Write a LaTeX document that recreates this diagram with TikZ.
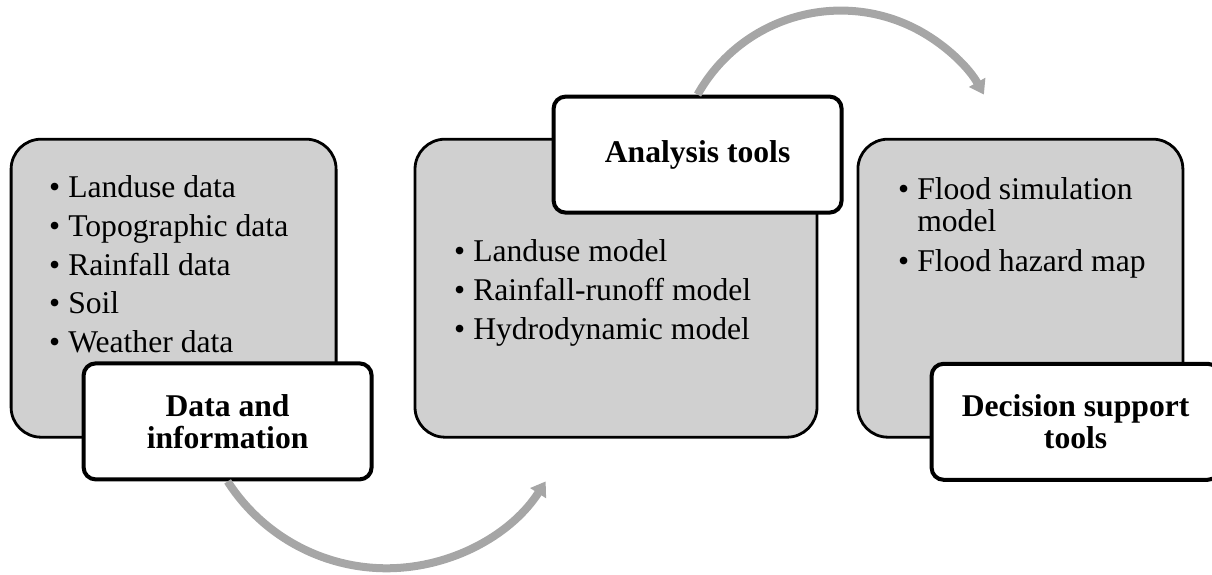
\documentclass[tikz,border=0pt]{standalone}
\usepackage{fontspec}
\setmainfont{Liberation Serif}
\usepackage{tikz}
\usetikzlibrary{arrows.meta}

\definecolor{panelgray}{RGB}{208,208,208}
\definecolor{arcgray}{RGB}{166,166,166}

\newcommand{\itembullet}{\llap{\textbullet\hspace{0.2cm}}}

\begin{document}
\begin{tikzpicture}[
    panel/.style = {draw, line width = 0.07cm, fill = panelgray,
                    rounded corners = 0.75cm, minimum height = 7.45cm},
    tag/.style = {draw, line width = 0.1cm, fill = white, rounded corners = 0.3cm,
                  minimum width = 7.2cm, minimum height = 2.9cm, align = center,
                  font = \fontsize{22.5}{22.8}\selectfont\bfseries},
    item/.style = {anchor = base west, inner sep = 0,
                   font = \fontsize{22.5}{22.8}\selectfont},
    flow/.style = {line width = 0.2cm, arcgray,
                   -{Triangle[length = 0.35cm, width = 0.45cm]}}
]
    \useasboundingbox (0, 0) rectangle (30.3, 14.375);

    %% panels
    \node[panel, minimum width = 8.125cm] (data) at (4.34, 7.17) {};
    \node[panel, minimum width = 10.05cm] (analysis) at (15.4, 7.17) {};
    \node[panel, minimum width = 8.125cm] (decision) at (25.51, 7.17) {};

    %% data and information
    \node[item] (d1) at (1.7, 9.425) {\itembullet Landuse data};
    \node[item] (d2) at (1.7, 8.46) {\itembullet Topographic data};
    \node[item] (d3) at (1.7, 7.495) {\itembullet Rainfall data};
    \node[item] (d4) at (1.7, 6.53) {\itembullet Soil};
    \node[item] (d5) at (1.7, 5.565) {\itembullet Weather data};

    %% analysis tools
    \node[item] (a1) at (11.825, 7.825) {\itembullet Landuse model};
    \node[item] (a2) at (11.825, 6.85) {\itembullet Rainfall-runoff model};
    \node[item] (a3) at (11.825, 5.875) {\itembullet Hydrodynamic model};

    %% decision support tools
    \node[item] (s1) at (22.925, 9.375) {\itembullet Flood simulation};
    \node[item] (s1b) at (22.925, 8.575) {model};
    \node[item] (s2) at (22.925, 7.575) {\itembullet Flood hazard map};

    %% tags
    \node[tag] (lab1) at (5.69, 3.84) {Data and\\information};
    \node[tag] (lab2) at (17.44, 10.51) {Analysis tools};
    \node[tag] (lab3) at (26.89, 3.83) {Decision support\\tools};

    %% arrows
    \draw[flow] (lab1.south) arc[start angle = 212.7, end angle = 327.3, radius = 4.725];
    \draw[flow] (lab2.north) arc[start angle = 150.8, end angle = 29.2, radius = 4.1];
\end{tikzpicture}
\end{document}
